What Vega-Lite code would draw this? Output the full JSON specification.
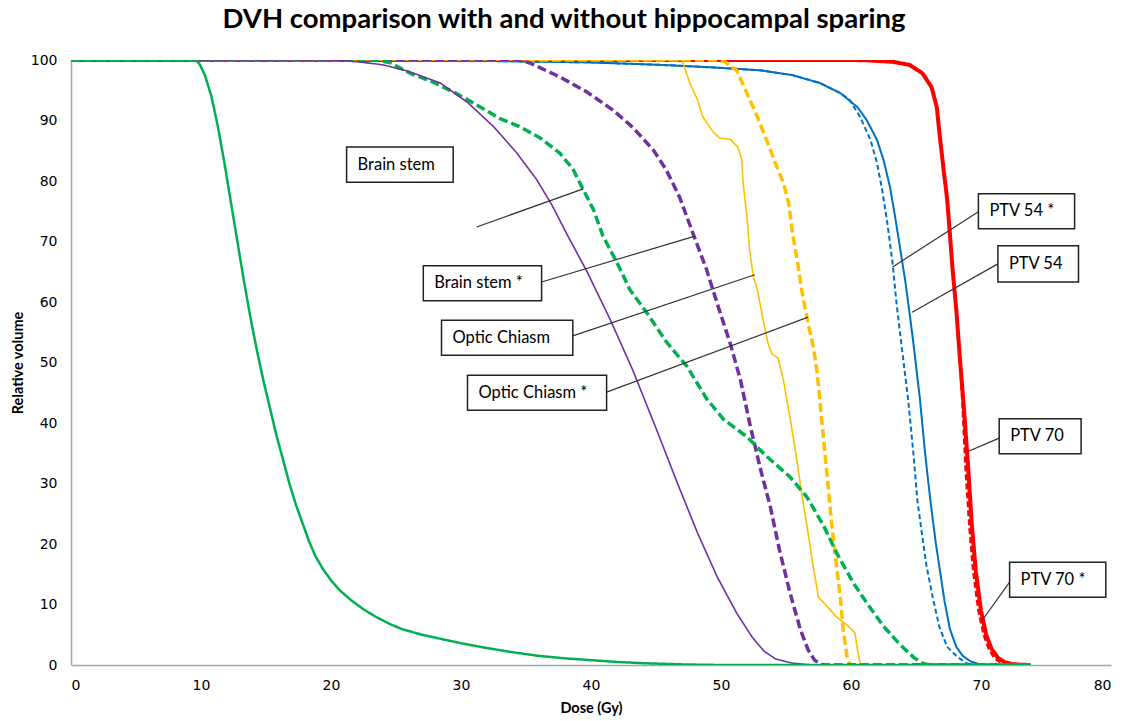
{
  "$schema": "https://vega.github.io/schema/vega-lite/v6.json",
  "width": 1040,
  "height": 605,
  "autosize": {"type": "none"},
  "padding": {"left": 71, "top": 60, "right": 15, "bottom": 56},
  "background": "white",
  "title": {"text": "DVH comparison with and without hippocampal sparing", "font": "Lato", "fontSize": 27.5, "fontWeight": "bold", "color": "#000000", "anchor": "middle", "dx": -27, "offset": -2, "baseline": "alphabetic"},
  "config": {"view": {"stroke": null}},
  "datasets": {
    "curves": [
      {"s":"PTV 54","d":0,"v":100},{"s":"PTV 54","d":20,"v":100},{"s":"PTV 54","d":30,"v":99.9},{"s":"PTV 54","d":40,"v":99.6},{"s":"PTV 54","d":45.3,"v":99.2},{"s":"PTV 54","d":49.2,"v":98.8},{"s":"PTV 54","d":53,"v":98.3},{"s":"PTV 54","d":55.5,"v":97.5},{"s":"PTV 54","d":57.6,"v":96.2},{"s":"PTV 54","d":59.2,"v":94.5},{"s":"PTV 54","d":60.5,"v":92.2},{"s":"PTV 54","d":61.2,"v":90.1},{"s":"PTV 54","d":62,"v":86.8},{"s":"PTV 54","d":62.5,"v":83.5},{"s":"PTV 54","d":63,"v":79},{"s":"PTV 54","d":63.4,"v":74},{"s":"PTV 54","d":63.8,"v":68.6},{"s":"PTV 54","d":64.2,"v":63.1},{"s":"PTV 54","d":64.5,"v":58.2},{"s":"PTV 54","d":64.8,"v":53.2},{"s":"PTV 54","d":65.3,"v":44},{"s":"PTV 54","d":65.7,"v":35},{"s":"PTV 54","d":66.1,"v":27.3},{"s":"PTV 54","d":66.5,"v":20.5},{"s":"PTV 54","d":66.8,"v":16.2},{"s":"PTV 54","d":67.2,"v":10.5},{"s":"PTV 54","d":67.6,"v":6},{"s":"PTV 54","d":68.1,"v":3},{"s":"PTV 54","d":68.6,"v":1.5},{"s":"PTV 54","d":69.2,"v":0.6},{"s":"PTV 54","d":69.9,"v":0.1},{"s":"PTV 54","d":70.3,"v":0},{"s":"PTV 54","d":73.8,"v":0},
      {"s":"PTV 54 *","d":0,"v":100},{"s":"PTV 54 *","d":20,"v":100},{"s":"PTV 54 *","d":30,"v":99.9},{"s":"PTV 54 *","d":40,"v":99.6},{"s":"PTV 54 *","d":45.3,"v":99.2},{"s":"PTV 54 *","d":49.2,"v":98.8},{"s":"PTV 54 *","d":53,"v":98.3},{"s":"PTV 54 *","d":55.5,"v":97.5},{"s":"PTV 54 *","d":57.6,"v":96.2},{"s":"PTV 54 *","d":59.2,"v":94.5},{"s":"PTV 54 *","d":59.9,"v":93.4},{"s":"PTV 54 *","d":60.7,"v":90.6},{"s":"PTV 54 *","d":61.5,"v":86.8},{"s":"PTV 54 *","d":62,"v":83},{"s":"PTV 54 *","d":62.4,"v":78.5},{"s":"PTV 54 *","d":62.8,"v":73},{"s":"PTV 54 *","d":63.2,"v":66.4},{"s":"PTV 54 *","d":63.5,"v":59.8},{"s":"PTV 54 *","d":63.9,"v":52.6},{"s":"PTV 54 *","d":64.4,"v":43.8},{"s":"PTV 54 *","d":64.8,"v":35},{"s":"PTV 54 *","d":65.1,"v":27.3},{"s":"PTV 54 *","d":65.5,"v":21},{"s":"PTV 54 *","d":65.8,"v":16.5},{"s":"PTV 54 *","d":66.3,"v":11},{"s":"PTV 54 *","d":66.8,"v":6.3},{"s":"PTV 54 *","d":67.4,"v":3},{"s":"PTV 54 *","d":68.2,"v":1.3},{"s":"PTV 54 *","d":68.9,"v":0.3},{"s":"PTV 54 *","d":69.4,"v":0},{"s":"PTV 54 *","d":73.8,"v":0},
      {"s":"PTV 70","d":0,"v":100},{"s":"PTV 70","d":60,"v":100},{"s":"PTV 70","d":61.2,"v":99.95},{"s":"PTV 70","d":63.2,"v":99.7},{"s":"PTV 70","d":64.5,"v":99.2},{"s":"PTV 70","d":65.5,"v":97.8},{"s":"PTV 70","d":66.2,"v":95.5},{"s":"PTV 70","d":66.6,"v":92.2},{"s":"PTV 70","d":66.8,"v":88},{"s":"PTV 70","d":67.1,"v":82.3},{"s":"PTV 70","d":67.4,"v":76.9},{"s":"PTV 70","d":67.6,"v":71.4},{"s":"PTV 70","d":67.8,"v":65.8},{"s":"PTV 70","d":68.1,"v":58.7},{"s":"PTV 70","d":68.4,"v":50},{"s":"PTV 70","d":68.7,"v":42},{"s":"PTV 70","d":69,"v":33},{"s":"PTV 70","d":69.3,"v":23},{"s":"PTV 70","d":69.6,"v":15.5},{"s":"PTV 70","d":70,"v":9},{"s":"PTV 70","d":70.4,"v":5},{"s":"PTV 70","d":70.8,"v":2.7},{"s":"PTV 70","d":71.3,"v":1.2},{"s":"PTV 70","d":71.8,"v":0.5},{"s":"PTV 70","d":72.4,"v":0.15},{"s":"PTV 70","d":73,"v":0.05},{"s":"PTV 70","d":73.8,"v":0},
      {"s":"PTV 70 *","d":0,"v":100},{"s":"PTV 70 *","d":60,"v":100},{"s":"PTV 70 *","d":61.2,"v":99.95},{"s":"PTV 70 *","d":63.2,"v":99.7},{"s":"PTV 70 *","d":64.5,"v":99.2},{"s":"PTV 70 *","d":65.5,"v":97.8},{"s":"PTV 70 *","d":66.2,"v":95.5},{"s":"PTV 70 *","d":66.6,"v":92.2},{"s":"PTV 70 *","d":66.8,"v":88},{"s":"PTV 70 *","d":67.1,"v":82.3},{"s":"PTV 70 *","d":67.4,"v":76.9},{"s":"PTV 70 *","d":67.6,"v":71.4},{"s":"PTV 70 *","d":67.8,"v":65.8},{"s":"PTV 70 *","d":68.1,"v":58.7},{"s":"PTV 70 *","d":68.4,"v":50},{"s":"PTV 70 *","d":68.6,"v":42},{"s":"PTV 70 *","d":68.8,"v":33},{"s":"PTV 70 *","d":69.1,"v":23},{"s":"PTV 70 *","d":69.4,"v":15.5},{"s":"PTV 70 *","d":69.8,"v":9},{"s":"PTV 70 *","d":70.2,"v":5},{"s":"PTV 70 *","d":70.6,"v":2.7},{"s":"PTV 70 *","d":71,"v":1.2},{"s":"PTV 70 *","d":71.5,"v":0.4},{"s":"PTV 70 *","d":72.1,"v":0.1},{"s":"PTV 70 *","d":72.6,"v":0},{"s":"PTV 70 *","d":73.8,"v":0},
      {"s":"Optic Chiasm","d":0,"v":100},{"s":"Optic Chiasm","d":47,"v":100},{"s":"Optic Chiasm","d":47.6,"v":96.2},{"s":"Optic Chiasm","d":48.2,"v":93.4},{"s":"Optic Chiasm","d":48.6,"v":90.6},{"s":"Optic Chiasm","d":49.4,"v":88.1},{"s":"Optic Chiasm","d":49.9,"v":87.1},{"s":"Optic Chiasm","d":50.7,"v":86.9},{"s":"Optic Chiasm","d":51.3,"v":85.6},{"s":"Optic Chiasm","d":51.6,"v":83.5},{"s":"Optic Chiasm","d":51.7,"v":79.7},{"s":"Optic Chiasm","d":52,"v":74},{"s":"Optic Chiasm","d":52.2,"v":68.6},{"s":"Optic Chiasm","d":52.5,"v":64.1},{"s":"Optic Chiasm","d":52.8,"v":62},{"s":"Optic Chiasm","d":53.2,"v":57.5},{"s":"Optic Chiasm","d":53.6,"v":53.3},{"s":"Optic Chiasm","d":53.9,"v":51.5},{"s":"Optic Chiasm","d":54.4,"v":50.7},{"s":"Optic Chiasm","d":54.8,"v":47.1},{"s":"Optic Chiasm","d":55.3,"v":41},{"s":"Optic Chiasm","d":55.8,"v":34.4},{"s":"Optic Chiasm","d":56.2,"v":28.4},{"s":"Optic Chiasm","d":56.7,"v":21.8},{"s":"Optic Chiasm","d":57.1,"v":16.2},{"s":"Optic Chiasm","d":57.5,"v":11.2},{"s":"Optic Chiasm","d":58.2,"v":9.6},{"s":"Optic Chiasm","d":58.9,"v":7.9},{"s":"Optic Chiasm","d":59.7,"v":6.6},{"s":"Optic Chiasm","d":60.3,"v":5.3},{"s":"Optic Chiasm","d":60.5,"v":2.5},{"s":"Optic Chiasm","d":60.7,"v":0.3},{"s":"Optic Chiasm","d":60.9,"v":0},{"s":"Optic Chiasm","d":73.8,"v":0},
      {"s":"Optic Chiasm *","d":0,"v":100},{"s":"Optic Chiasm *","d":49.7,"v":100},{"s":"Optic Chiasm *","d":50.3,"v":99.7},{"s":"Optic Chiasm *","d":51.2,"v":98.3},{"s":"Optic Chiasm *","d":52,"v":94.5},{"s":"Optic Chiasm *","d":52.8,"v":90.6},{"s":"Optic Chiasm *","d":53.5,"v":86.8},{"s":"Optic Chiasm *","d":54.3,"v":82.3},{"s":"Optic Chiasm *","d":54.8,"v":79.7},{"s":"Optic Chiasm *","d":55.2,"v":76.4},{"s":"Optic Chiasm *","d":55.5,"v":71.4},{"s":"Optic Chiasm *","d":55.9,"v":66.4},{"s":"Optic Chiasm *","d":56.3,"v":60.8},{"s":"Optic Chiasm *","d":56.7,"v":56.5},{"s":"Optic Chiasm *","d":57.1,"v":52.6},{"s":"Optic Chiasm *","d":57.4,"v":48.3},{"s":"Optic Chiasm *","d":57.8,"v":39.3},{"s":"Optic Chiasm *","d":58.2,"v":30.6},{"s":"Optic Chiasm *","d":58.5,"v":23.5},{"s":"Optic Chiasm *","d":58.9,"v":16.2},{"s":"Optic Chiasm *","d":59.2,"v":10.7},{"s":"Optic Chiasm *","d":59.4,"v":5.8},{"s":"Optic Chiasm *","d":59.7,"v":1.3},{"s":"Optic Chiasm *","d":59.9,"v":0.2},{"s":"Optic Chiasm *","d":60,"v":0},{"s":"Optic Chiasm *","d":73.8,"v":0},
      {"s":"Brain stem *","d":0,"v":100},{"s":"Brain stem *","d":34.5,"v":100},{"s":"Brain stem *","d":35.3,"v":99.5},{"s":"Brain stem *","d":37.6,"v":97.2},{"s":"Brain stem *","d":39.7,"v":94.7},{"s":"Brain stem *","d":41.7,"v":91.7},{"s":"Brain stem *","d":43.2,"v":88.9},{"s":"Brain stem *","d":44.8,"v":85.1},{"s":"Brain stem *","d":45.8,"v":81.8},{"s":"Brain stem *","d":46.8,"v":77.4},{"s":"Brain stem *","d":47.8,"v":71.6},{"s":"Brain stem *","d":48.9,"v":65.3},{"s":"Brain stem *","d":49.7,"v":59.8},{"s":"Brain stem *","d":50.7,"v":53.2},{"s":"Brain stem *","d":51.5,"v":47.1},{"s":"Brain stem *","d":52.2,"v":40},{"s":"Brain stem *","d":53,"v":32.7},{"s":"Brain stem *","d":53.8,"v":26.1},{"s":"Brain stem *","d":54.5,"v":19},{"s":"Brain stem *","d":55.3,"v":12},{"s":"Brain stem *","d":56.1,"v":5.9},{"s":"Brain stem *","d":56.7,"v":2.5},{"s":"Brain stem *","d":57.2,"v":0.8},{"s":"Brain stem *","d":57.7,"v":0.1},{"s":"Brain stem *","d":58,"v":0},{"s":"Brain stem *","d":73.8,"v":0},
      {"s":"Hippocampus *","d":0,"v":100},{"s":"Hippocampus *","d":23.5,"v":100},{"s":"Hippocampus *","d":24.5,"v":99.6},{"s":"Hippocampus *","d":26.1,"v":97.8},{"s":"Hippocampus *","d":27.9,"v":96.3},{"s":"Hippocampus *","d":29.7,"v":94.4},{"s":"Hippocampus *","d":31.5,"v":92.2},{"s":"Hippocampus *","d":33,"v":90.3},{"s":"Hippocampus *","d":34.5,"v":89},{"s":"Hippocampus *","d":36.1,"v":87.1},{"s":"Hippocampus *","d":37.6,"v":84.6},{"s":"Hippocampus *","d":38.6,"v":82},{"s":"Hippocampus *","d":39.4,"v":78.6},{"s":"Hippocampus *","d":40.2,"v":75.2},{"s":"Hippocampus *","d":40.9,"v":71},{"s":"Hippocampus *","d":42,"v":66.5},{"s":"Hippocampus *","d":43,"v":62},{"s":"Hippocampus *","d":44.3,"v":58.2},{"s":"Hippocampus *","d":45.8,"v":53.4},{"s":"Hippocampus *","d":47.4,"v":49.3},{"s":"Hippocampus *","d":48.9,"v":44},{"s":"Hippocampus *","d":50.2,"v":40.6},{"s":"Hippocampus *","d":52,"v":37.7},{"s":"Hippocampus *","d":53.5,"v":34.5},{"s":"Hippocampus *","d":55.3,"v":31.1},{"s":"Hippocampus *","d":56.6,"v":27.8},{"s":"Hippocampus *","d":57.9,"v":23},{"s":"Hippocampus *","d":58.9,"v":18.5},{"s":"Hippocampus *","d":60.2,"v":13.5},{"s":"Hippocampus *","d":61.3,"v":10},{"s":"Hippocampus *","d":62.5,"v":6.4},{"s":"Hippocampus *","d":63.8,"v":3.3},{"s":"Hippocampus *","d":64.8,"v":1.3},{"s":"Hippocampus *","d":65.5,"v":0.3},{"s":"Hippocampus *","d":66,"v":0},{"s":"Hippocampus *","d":73.8,"v":0},
      {"s":"Brain stem","d":0,"v":100},{"s":"Brain stem","d":20,"v":100},{"s":"Brain stem","d":21,"v":99.9},{"s":"Brain stem","d":22.5,"v":99.6},{"s":"Brain stem","d":24,"v":99.2},{"s":"Brain stem","d":26,"v":98.1},{"s":"Brain stem","d":28.4,"v":96.2},{"s":"Brain stem","d":30.5,"v":93},{"s":"Brain stem","d":32.5,"v":89},{"s":"Brain stem","d":34.3,"v":84.6},{"s":"Brain stem","d":35.8,"v":80.3},{"s":"Brain stem","d":37,"v":76},{"s":"Brain stem","d":38.2,"v":71},{"s":"Brain stem","d":39.7,"v":65},{"s":"Brain stem","d":41.5,"v":57},{"s":"Brain stem","d":43.2,"v":48.8},{"s":"Brain stem","d":45.1,"v":38.6},{"s":"Brain stem","d":46.6,"v":30.3},{"s":"Brain stem","d":48.2,"v":21.8},{"s":"Brain stem","d":49.7,"v":14.6},{"s":"Brain stem","d":51.2,"v":8.6},{"s":"Brain stem","d":52.4,"v":4.6},{"s":"Brain stem","d":53.3,"v":2.3},{"s":"Brain stem","d":54.2,"v":1},{"s":"Brain stem","d":55.5,"v":0.3},{"s":"Brain stem","d":57,"v":0},{"s":"Brain stem","d":73.8,"v":0},
      {"s":"Hippocampus","d":0,"v":100},{"s":"Hippocampus","d":9.6,"v":100},{"s":"Hippocampus","d":9.9,"v":99.3},{"s":"Hippocampus","d":10.3,"v":97.5},{"s":"Hippocampus","d":10.8,"v":94},{"s":"Hippocampus","d":11.3,"v":89},{"s":"Hippocampus","d":11.8,"v":83},{"s":"Hippocampus","d":12.3,"v":76.5},{"s":"Hippocampus","d":12.8,"v":70},{"s":"Hippocampus","d":13.3,"v":63.5},{"s":"Hippocampus","d":13.8,"v":57.5},{"s":"Hippocampus","d":14.3,"v":52},{"s":"Hippocampus","d":14.8,"v":47},{"s":"Hippocampus","d":15.3,"v":42.5},{"s":"Hippocampus","d":15.8,"v":38},{"s":"Hippocampus","d":16.3,"v":34},{"s":"Hippocampus","d":16.8,"v":30},{"s":"Hippocampus","d":17.3,"v":26.5},{"s":"Hippocampus","d":17.8,"v":23.5},{"s":"Hippocampus","d":18.3,"v":20.5},{"s":"Hippocampus","d":18.8,"v":18},{"s":"Hippocampus","d":19.4,"v":15.8},{"s":"Hippocampus","d":20,"v":14},{"s":"Hippocampus","d":20.7,"v":12.3},{"s":"Hippocampus","d":21.5,"v":10.8},{"s":"Hippocampus","d":22.5,"v":9.2},{"s":"Hippocampus","d":23.5,"v":7.9},{"s":"Hippocampus","d":24.5,"v":6.8},{"s":"Hippocampus","d":25.5,"v":5.9},{"s":"Hippocampus","d":27,"v":5},{"s":"Hippocampus","d":28.5,"v":4.3},{"s":"Hippocampus","d":30,"v":3.6},{"s":"Hippocampus","d":32,"v":2.8},{"s":"Hippocampus","d":34,"v":2.1},{"s":"Hippocampus","d":36,"v":1.5},{"s":"Hippocampus","d":38,"v":1.1},{"s":"Hippocampus","d":40,"v":0.8},{"s":"Hippocampus","d":42,"v":0.5},{"s":"Hippocampus","d":44,"v":0.3},{"s":"Hippocampus","d":47,"v":0.1},{"s":"Hippocampus","d":50,"v":0},{"s":"Hippocampus","d":73.8,"v":0}
    ],
    "boxes": [
      {"t":"Brain stem","x1":21.2,"x2":29.4,"y1":85.6,"y2":79.8,"ym":82.7},
      {"t":"Brain stem *","x1":27.1,"x2":36.2,"y1":66.0,"y2":60.2,"ym":63.1},
      {"t":"Optic Chiasm","x1":28.5,"x2":38.6,"y1":57.0,"y2":51.2,"ym":54.1},
      {"t":"Optic Chiasm *","x1":30.5,"x2":41.2,"y1":47.9,"y2":42.1,"ym":45.0},
      {"t":"PTV 54  *","x1":69.8,"x2":77.2,"y1":77.9,"y2":72.1,"ym":75.0},
      {"t":"PTV 54","x1":71.3,"x2":77.5,"y1":69.3,"y2":63.3,"ym":66.3},
      {"t":"PTV 70","x1":71.4,"x2":77.7,"y1":40.7,"y2":34.9,"ym":37.8},
      {"t":"PTV 70  *","x1":72.2,"x2":79.6,"y1":17.0,"y2":11.2,"ym":14.1}
    ],
    "leaders": [
      {"x":31.2,"y":72.4,"x2":39.4,"y2":78.7},
      {"x":36.2,"y":63.3,"x2":48.0,"y2":70.9},
      {"x":38.6,"y":54.4,"x2":52.6,"y2":64.5},
      {"x":41.2,"y":45.1,"x2":56.7,"y2":57.5},
      {"x":69.8,"y":74.9,"x2":63.2,"y2":65.8},
      {"x":71.3,"y":66.3,"x2":64.7,"y2":58.3},
      {"x":71.4,"y":37.5,"x2":68.9,"y2":35.2},
      {"x":72.2,"y":13.7,"x2":70.1,"y2":7.4}
    ]
  },
  "layer": [
    {
      "data": {"name": "curves"},
      "mark": {"type": "line", "clip": true, "strokeCap": "butt", "strokeJoin": "round"},
      "encoding": {
        "x": {"field": "d", "type": "quantitative", "scale": {"domain": [0, 80], "nice": false},
          "axis": {"values": [0,10,20,30,40,50,60,70,80], "ticks": false, "grid": false, "domainColor": "#A6A6A6", "domainWidth": 1.5, "labelFont": "DejaVu Sans", "labelFontSize": 14, "labelColor": "#000000", "labelPadding": 13, "title": "Dose (Gy)", "titleFont": "Lato", "titleFontSize": 14.5, "titleFontWeight": "bold", "titleColor": "#000000", "titlePadding": 9}},
        "y": {"field": "v", "type": "quantitative", "scale": {"domain": [0, 100], "nice": false},
          "axis": {"values": [0,10,20,30,40,50,60,70,80,90,100], "ticks": false, "grid": false, "domainColor": "#A6A6A6", "domainWidth": 1.5, "labelFont": "DejaVu Sans", "labelFontSize": 14, "labelColor": "#000000", "labelPadding": 14, "title": "Relative volume", "titleFont": "Lato", "titleFontSize": 14.5, "titleFontWeight": "bold", "titleColor": "#000000", "titleX": -53, "titleY": 302.5, "titleAngle": -90, "titleAlign": "center", "titleBaseline": "middle"}},
        "color": {"field": "s", "type": "nominal", "legend": null,
          "scale": {"domain": ["PTV 54","PTV 54 *","PTV 70","PTV 70 *","Optic Chiasm","Optic Chiasm *","Brain stem *","Hippocampus *","Brain stem","Hippocampus"],
                    "range": ["#0070C0","#0070C0","#FF0000","#FF0000","#FFC000","#FFC000","#7030A0","#00B050","#7030A0","#00B050"]}},
        "strokeWidth": {"field": "s", "type": "nominal", "legend": null,
          "scale": {"type": "ordinal", "domain": ["PTV 54","PTV 54 *","PTV 70","PTV 70 *","Optic Chiasm","Optic Chiasm *","Brain stem *","Hippocampus *","Brain stem","Hippocampus"],
                    "range": [2, 2, 4, 2.5, 1.6, 3.5, 3.5, 3.5, 1.6, 2.5]}},
        "strokeDash": {"field": "s", "type": "nominal", "legend": null,
          "scale": {"domain": ["PTV 54","PTV 54 *","PTV 70","PTV 70 *","Optic Chiasm","Optic Chiasm *","Brain stem *","Hippocampus *","Brain stem","Hippocampus"],
                    "range": [[1,0],[5,3],[1,0],[6,3],[1,0],[9,4],[9,4],[9,4],[1,0],[1,0]]}}
      }
    },
    {
      "data": {"name": "leaders"},
      "mark": {"type": "rule", "color": "#333333", "strokeWidth": 1.2},
      "encoding": {
        "x": {"field": "x", "type": "quantitative"},
        "y": {"field": "y", "type": "quantitative"},
        "x2": {"field": "x2"},
        "y2": {"field": "y2"}
      }
    },
    {
      "data": {"name": "boxes"},
      "mark": {"type": "rect", "fill": "white", "stroke": "#222222", "strokeWidth": 1.5},
      "encoding": {
        "x": {"field": "x1", "type": "quantitative"},
        "x2": {"field": "x2"},
        "y": {"field": "y1", "type": "quantitative"},
        "y2": {"field": "y2"}
      }
    },
    {
      "data": {"name": "boxes"},
      "mark": {"type": "text", "font": "Lato", "fontSize": 16.5, "color": "#000000", "align": "left", "baseline": "middle", "dx": 11},
      "encoding": {
        "x": {"field": "x1", "type": "quantitative"},
        "y": {"field": "ym", "type": "quantitative"},
        "text": {"field": "t"}
      }
    }
  ]
}
